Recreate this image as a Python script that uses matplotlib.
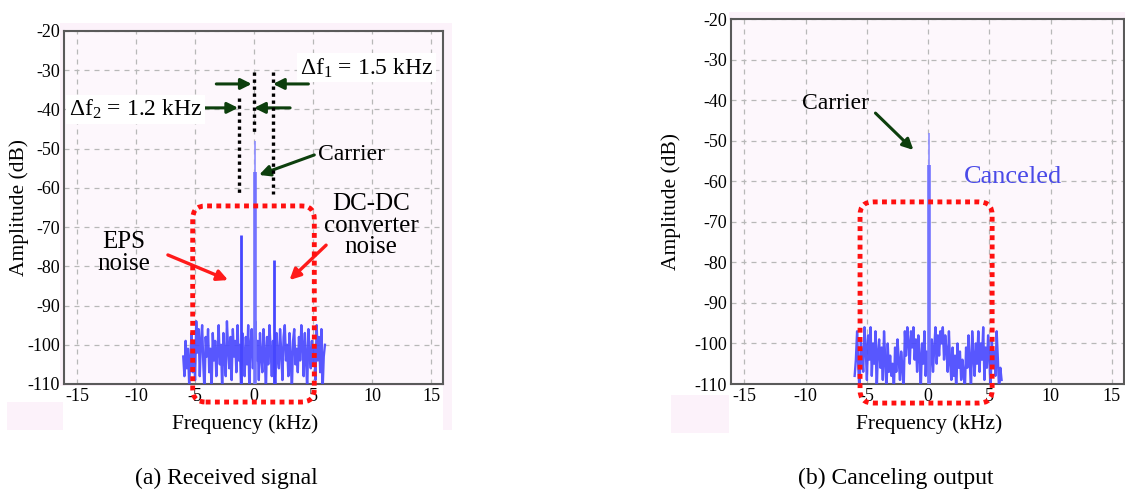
import numpy as np
import matplotlib
matplotlib.use('Agg')
import matplotlib.pyplot as plt
from matplotlib.patches import FancyBboxPatch, Rectangle
from matplotlib.transforms import IdentityTransform

plt.rcParams['font.family'] = ['Liberation Serif', 'DejaVu Serif']
plt.rcParams['mathtext.fontset'] = 'custom'
plt.rcParams['mathtext.rm'] = 'Liberation Serif'
plt.rcParams['mathtext.it'] = 'Liberation Serif:italic'

# noise floor sampled every 0.1 kHz from -6 kHz (dB)
f_start, f_step = -6.0, 0.1
noise_received = [
    -103, -108, -99, -106, -101, -110, -104, -97, -107, -100, -109,
    -94, -102, -96, -108, -99, -95, -105, -112, -98, -103,
    -96, -107, -101, -112, -97, -104, -99, -108, -102, -95,
    -105, -100, -112, -97, -103, -108, -94, -101, -106, -98,
    -109, -96, -103, -99, -107, -95, -104, -100, -112, -97,
    -102, -108, -98, -105, -95, -112, -100, -96, -106, -101,
    -94, -104, -99, -109, -97, -103, -107, -96, -102, -112,
    -98, -105, -95, -101, -108, -99, -104, -112, -97, -103,
    -106, -96, -102, -109, -98, -95, -104, -100, -108, -97,
    -103, -112, -99, -96, -105, -101, -107, -98, -104, -95,
    -100, -108, -97, -103, -112, -96, -102, -106, -99, -105,
    -101, -109, -95, -104, -98, -107, -96, -112, -103, -100,
]
noise_canceled = [
    -108, -104, -97, -106, -112, -99, -103, -107, -96, -101, -109,
    -98, -104, -96, -108, -100, -105, -97, -112, -102, -99,
    -106, -101, -109, -97, -104, -112, -100, -107, -103, -108,
    -105, -112, -101, -107, -99, -104, -109, -102, -106, -112,
    -97, -103, -96, -100, -105, -97, -101, -96, -104, -99,
    -107, -98, -103, -112, -100, -105, -97, -108, -102, -106,
    -112, -104, -99, -107, -101, -96, -105, -98, -103, -97,
    -100, -96, -104, -98, -102, -107, -97, -105, -109, -101,
    -108, -103, -112, -100, -106, -102, -109, -104, -107, -112,
    -101, -106, -98, -104, -112, -97, -103, -108, -100, -105,
    -97, -107, -100, -104, -96, -109, -101, -106, -98, -103,
    -112, -99, -105, -102, -108, -97, -104, -112, -106, -109,
]

# spectral lines (kHz, dB)
carrier_freq, carrier_peak, carrier_body = 0.05, -48, -56
eps_freq, eps_peak = -1.15, -72
dcdc_freq, dcdc_peak = 1.7, -78.5

xticks = [-15, -10, -5, 0, 5, 10, 15]
yticks = [-20, -30, -40, -50, -60, -70, -80, -90, -100, -110]
floor = -110

fig = plt.figure(figsize=(11.25, 4.94), dpi=100)
W, H = 1125, 494


def px_rect(x0, y0, x1, y1, color):
    # rectangle in pixel coords measured from the top-left corner
    r = Rectangle((x0 / W, 1 - y1 / H), (x1 - x0) / W, (y1 - y0) / H,
                  transform=fig.transFigure, facecolor=color,
                  edgecolor='none', zorder=-5)
    fig.add_artist(r)


pink = '#fcf2fa'
px_rect(60, 23, 452, 386, pink)
px_rect(443, 23, 452, 430, pink)
px_rect(7, 402, 63, 430, pink)
px_rect(729, 12, 1125, 20, pink)
px_rect(671, 395, 729, 433, pink)


def setup(ax):
    ax.set_facecolor('#fdf7fc')
    ax.set_xlim(-16.1, 16.0)
    ax.set_ylim(-110, -20)
    ax.set_xticks(xticks)
    ax.set_yticks(yticks)
    ax.set_xticklabels([str(t) for t in xticks])
    ax.set_yticklabels([str(t) for t in yticks])
    ax.tick_params(length=0, labelsize=13, pad=3)
    ax.grid(True, color='#b8b8b8', linestyle=(0, (4, 4)), linewidth=0.9)
    ax.set_axisbelow(True)
    for s in ax.spines.values():
        s.set_color('#5a5a5a')
        s.set_linewidth(1.5)


def draw_spectrum(ax, noise):
    f = f_start + f_step * np.arange(len(noise))
    ax.plot(f, noise, color='#4646ff', lw=1.7, alpha=0.9, zorder=3)
    ax.vlines(carrier_freq, floor, carrier_peak, color='#8c8cff', lw=1.2, zorder=3)
    ax.vlines(carrier_freq, floor, carrier_body, color='#7272ff', lw=2.6, zorder=3)


def dotted_box(ax, x0, x1, y0, y1):
    fig.canvas.draw()
    (a, b), (c, d) = ax.transData.transform([(x0, y0), (x1, y1)])
    box = FancyBboxPatch((a, b), c - a, d - b,
                         boxstyle='round,pad=0,rounding_size=13',
                         transform=IdentityTransform(), fill=False,
                         edgecolor='#ff1010', lw=3.5,
                         linestyle=(0, (1, 0.9)), zorder=6)
    fig.add_artist(box)


green = '#0d3f0d'
arrow_g = dict(arrowstyle='-|>', color=green, lw=2.2, mutation_scale=16,
               shrinkA=0, shrinkB=0)
arrow_r = dict(arrowstyle='-|>', color='#ff1a1a', lw=2.4, mutation_scale=16,
               shrinkA=0, shrinkB=0)

# (a) received signal
ax1 = fig.add_axes([64 / W, 1 - 384 / H, 379 / W, 353 / H])
setup(ax1)
draw_spectrum(ax1, noise_received)
ax1.vlines(eps_freq, floor, eps_peak, color='#4646ff', lw=2.0, zorder=3)
ax1.vlines(dcdc_freq, floor, dcdc_peak, color='#4646ff', lw=2.0, zorder=3)

dots = (0, (1, 1.1))
ax1.plot([-1.25, -1.25], [-37, -61.5], color='k', lw=2.4, ls=dots, zorder=4)
ax1.plot([-0.05, -0.05], [-30.5, -45.8], color='k', lw=2.4, ls=dots, zorder=4)
ax1.plot([1.6, 1.6], [-30.5, -61.5], color='k', lw=2.4, ls=dots, zorder=4)

ax1.annotate('', xy=(-0.2, -33.5), xytext=(-3.2, -33.5), arrowprops=arrow_g)
ax1.annotate('', xy=(1.6, -33.5), xytext=(4.6, -33.5), arrowprops=arrow_g)
ax1.annotate('', xy=(-1.35, -39.6), xytext=(-4.3, -39.6), arrowprops=arrow_g)
ax1.annotate('', xy=(0.0, -39.6), xytext=(3.05, -39.6), arrowprops=arrow_g)

box_w = dict(facecolor='white', edgecolor='none', pad=2)
ax1.text(3.9, -29.4, r'$\Delta$f$_1$ = 1.5 kHz', fontsize=17, ha='left',
         va='center', bbox=box_w, zorder=5)
ax1.text(-15.7, -40.1, r'$\Delta$f$_2$ = 1.2 kHz', fontsize=17, ha='left',
         va='center', bbox=box_w, zorder=5)

ax1.text(5.4, -51.6, 'Carrier', fontsize=17, ha='left', va='center')
ax1.annotate('', xy=(0.42, -56.7), xytext=(5.1, -51.6), arrowprops=arrow_g)
ax1.text(9.9, -69.6, 'DC-DC\nconverter\nnoise', fontsize=18, ha='center',
         va='center', linespacing=0.97)
ax1.text(-11.0, -76.6, 'EPS\nnoise', fontsize=18, ha='center', va='center',
         linespacing=1.0)
ax1.annotate('', xy=(-2.2, -83.5), xytext=(-7.3, -77.1), arrowprops=arrow_r)
ax1.annotate('', xy=(3.0, -83.5), xytext=(6.1, -74.6), arrowprops=arrow_r)

# (b) canceling output
ax2 = fig.add_axes([731 / W, 1 - 384 / H, 393 / W, 365 / H])
setup(ax2)
draw_spectrum(ax2, noise_canceled)
ax2.text(-10.3, -40.9, 'Carrier', fontsize=17, ha='left', va='center')
ax2.annotate('', xy=(-1.2, -52.3), xytext=(-4.3, -43.2), arrowprops=arrow_g)
ax2.text(2.9, -59.0, 'Canceled', fontsize=19, color='#4a4ae8', ha='left',
         va='center')

dotted_box(ax1, -5.2, 5.1, -114.6, -64.6)
dotted_box(ax2, -5.56, 5.23, -114.7, -65.1)

fig.text(19 / W, 1 - 207 / H, 'Amplitude (dB)', rotation=90, fontsize=15.5,
         ha='center', va='center')
fig.text(671 / W, 1 - 201 / H, 'Amplitude (dB)', rotation=90, fontsize=15.5,
         ha='center', va='center')
fig.text(245 / W, 1 - 424 / H, 'Frequency (kHz)', fontsize=15.5,
         ha='center', va='center')
fig.text(929 / W, 1 - 424 / H, 'Frequency (kHz)', fontsize=15.5,
         ha='center', va='center')
fig.text(226 / W, 1 - 478 / H, '(a) Received signal', fontsize=17,
         ha='center', va='center')
fig.text(896 / W, 1 - 478 / H, '(b) Canceling output', fontsize=17,
         ha='center', va='center')

fig.savefig('out.png', dpi=100)
